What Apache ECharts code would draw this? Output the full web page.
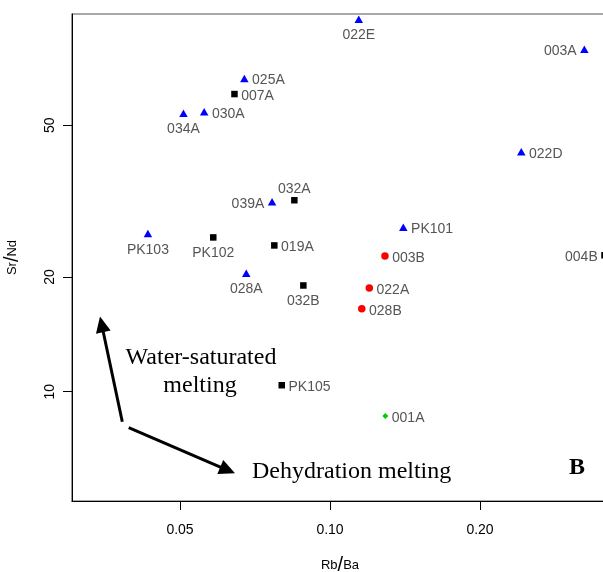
<!DOCTYPE html>
<html>
<head>
<meta charset="utf-8">
<title>Sr/Nd vs Rb/Ba</title>
<script src="https://cdn.jsdelivr.net/npm/echarts@6/dist/echarts.min.js"></script>
<style>
  html, body { margin: 0; padding: 0; background: #fff; }
  #chart { width: 603px; height: 572px; }
</style>
</head>
<body>
<div id="chart"></div>
<script>
// Sample groups (Rb/Ba, Sr/Nd)
const triIds = ['022E', '003A', '025A', '030A', '034A', '022D', '039A', 'PK101', 'PK103', '028A'];
const triRbBa = [0.1142, 0.3239, 0.0673, 0.0559, 0.0508, 0.2420, 0.0765, 0.1403, 0.0431, 0.0679];
const triSrNd = [94.9, 79.2, 66.4, 54.3, 53.8, 42.6, 31.5, 27.0, 26.0, 20.45];

const sqIds = ['007A', '032A', 'PK102', '019A', '032B', 'PK105', '004B'];
const sqRbBa = [0.0643, 0.0848, 0.0583, 0.0773, 0.0884, 0.0800, 0.3555];
const sqSrNd = [60.4, 31.8, 25.4, 24.2, 19.0, 10.4, 22.8];

const dotIds = ['003B', '022A', '028B'];
const dotRbBa = [0.1289, 0.1199, 0.1158];
const dotSrNd = [22.7, 18.7, 16.5];

const diaIds = ['001A'];
const diaRbBa = [0.1291];
const diaSrNd = [8.64];

// Tick values on both log axes
const xTicks = [0.05, 0.10, 0.20];
const yTicks = [10, 20, 50];

// Axis extents (in data units)
const xMin = 0.03035, xMax = 0.3613;
const yMin = 5.167, yMax = 97.97;

// Which side each sample label sits on
const labelSide = {
  '022E': 'bottom', '003A': 'left', '025A': 'right', '030A': 'right', '034A': 'bottom',
  '022D': 'right', '039A': 'left', 'PK101': 'right', 'PK103': 'bottom', '028A': 'bottom',
  '007A': 'right', '032A': 'top', 'PK102': 'bottom', '019A': 'right', '032B': 'bottom',
  'PK105': 'right', '004B': 'left',
  '003B': 'right', '022A': 'right', '028B': 'right',
  '001A': 'right'
};

const lg = Math.log10;
const FONT = '"Liberation Sans", Arial, sans-serif';

function makeData(ids, xs, ys) {
  return ids.map((id, i) => {
    const side = labelSide[id];
    const label = { position: side };
    if (side === 'left' || side === 'right') label.offset = [0, 2];
    if (side === 'top') label.distance = 1;
    if (side === 'bottom') label.distance = 5.5;
    return { name: id, value: [lg(xs[i]), lg(ys[i])], label };
  });
}

function scatter(ids, xs, ys, symbol, size, color) {
  return {
    type: 'scatter',
    symbol: symbol,
    symbolSize: size,
    itemStyle: { color: color, opacity: 1 },
    data: makeData(ids, xs, ys),
    label: {
      show: true,
      formatter: '{b}',
      color: '#555',
      fontSize: 14,
      fontFamily: FONT,
      distance: 3.5
    },
    emphasis: { disabled: true },
    animation: false,
    clip: false
  };
}

// Arrow annotation helper (pixel space)
function arrow(x0, y0, x1, y1) {
  const dx = x1 - x0, dy = y1 - y0;
  const len = Math.hypot(dx, dy);
  const ux = dx / len, uy = dy / len;
  const headL = 16, headW = 7.5;
  const bx = x1 - ux * headL, by = y1 - uy * headL;
  const nx = -uy, ny = ux;
  return [
    { type: 'line', shape: { x1: x0, y1: y0, x2: bx + ux * 2, y2: by + uy * 2 },
      style: { stroke: '#000', lineWidth: 3 } },
    { type: 'polygon', shape: { points: [[x1, y1], [bx + nx * headW, by + ny * headW], [bx - nx * headW, by - ny * headW]] },
      style: { fill: '#000' } }
  ];
}

const chart = echarts.init(document.getElementById('chart'), null, { renderer: 'canvas' });

const serif = '"Liberation Serif", "Times New Roman", serif';

chart.setOption({
  backgroundColor: '#fff',
  animation: false,
  grid: {
    left: 72, top: 14, width: 536, height: 487,
    containLabel: false,
    outerBoundsMode: 'none',
    show: true, borderColor: '#555', borderWidth: 1.2, backgroundColor: 'transparent'
  },
  xAxis: {
    type: 'value',
    min: lg(xMin), max: lg(xMax),
    name: '{a|Rb}{s|/}{a|Ba}',
    nameLocation: 'middle',
    nameGap: 54,
    nameTextStyle: {
      rich: {
        a: { fontSize: 13, fontFamily: FONT, color: '#000' },
        s: { fontSize: 20, fontFamily: FONT, color: '#000' }
      }
    },
    axisLine: { show: true, onZero: false, lineStyle: { color: '#000', width: 1 } },
    axisTick: { show: true, length: 9, lineStyle: { color: '#000' }, customValues: xTicks.map(lg) },
    axisLabel: {
      customValues: xTicks.map(lg),
      formatter: v => Math.pow(10, v).toFixed(2),
      fontSize: 14, fontFamily: FONT, color: '#000', margin: 22
    },
    splitLine: { show: false }
  },
  yAxis: {
    type: 'value',
    min: lg(yMin), max: lg(yMax),
    name: '{a|Sr}{s|/}{a|Nd}',
    nameLocation: 'middle',
    nameRotate: 90,
    nameGap: 50,
    nameTextStyle: {
      rich: {
        a: { fontSize: 13, fontFamily: FONT, color: '#000' },
        s: { fontSize: 20, fontFamily: FONT, color: '#000' }
      }
    },
    axisLine: { show: true, onZero: false, lineStyle: { color: '#000', width: 1 } },
    axisTick: { show: true, length: 9, lineStyle: { color: '#000' }, customValues: yTicks.map(lg) },
    axisLabel: {
      customValues: yTicks.map(lg),
      formatter: v => String(Math.round(Math.pow(10, v))),
      rotate: 90,
      fontSize: 14, fontFamily: FONT, color: '#000', margin: 15
    },
    splitLine: { show: false }
  },
  series: [
    scatter(triIds, triRbBa, triSrNd, 'triangle', [8.5, 7.5], '#0000FF'),
    scatter(sqIds, sqRbBa, sqSrNd, 'rect', 6.5, '#000000'),
    scatter(dotIds, dotRbBa, dotSrNd, 'circle', 7.5, '#FF0000'),
    scatter(diaIds, diaRbBa, diaSrNd, 'diamond', 6, '#00CD00')
  ],
  graphic: [
    ...arrow(122.3, 421.7, 100, 316.5),
    ...arrow(128.7, 427.7, 235, 473.3),
    { type: 'text', x: 201, y: 358,
      style: { text: 'Water-saturated', font: '24px ' + serif, fill: '#000', align: 'center', verticalAlign: 'middle' } },
    { type: 'text', x: 200, y: 386,
      style: { text: 'melting', font: '24px ' + serif, fill: '#000', align: 'center', verticalAlign: 'middle' } },
    { type: 'text', x: 252, y: 472,
      style: { text: 'Dehydration melting', font: '24px ' + serif, fill: '#000', align: 'left', verticalAlign: 'middle' } },
    { type: 'text', x: 577, y: 468,
      style: { text: 'B', font: 'bold 24px ' + serif, fill: '#000', align: 'center', verticalAlign: 'middle' } }
  ]
});
</script>
</body>
</html>
